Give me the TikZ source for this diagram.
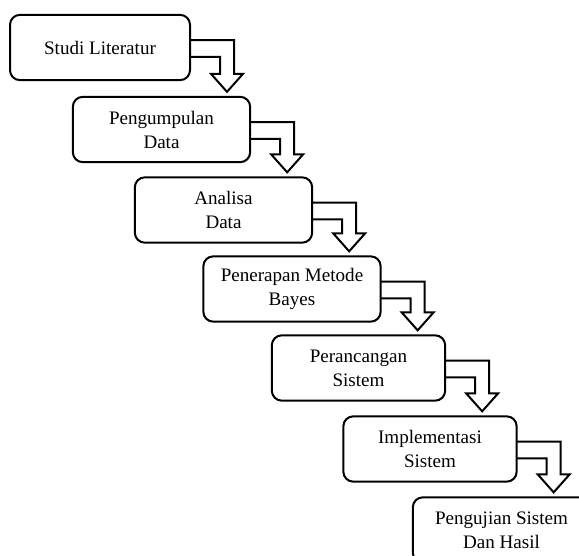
\documentclass[tikz,border=0pt]{standalone}
\usepackage{fontspec}
\setmainfont{Liberation Serif}
\usetikzlibrary{calc}

\begin{document}
\begin{tikzpicture}[x=0.75pt, y=-0.75pt, line width=1.5pt]
    \tikzstyle{every node} = [
        font=\fontsize{14.3}{18}\selectfont
    ]
    \tikzstyle{stage} = [
        draw=black,
        rounded corners=7.5pt,
        align=center,
        inner sep=0pt,
        minimum width=133pt,
        minimum height=49pt
    ]
    \tikzstyle{flowarrow} = [
        draw=black,
        line width=1.5pt,
        line join=miter
    ]

    \useasboundingbox (0,0) rectangle (579,556);
    \clip (0,0) rectangle (579,556);

    \node[stage, minimum width=135pt] (1) at (100, 47.5) {Studi Literatur};
    \node[stage] (2) at (161.5, 129.5) {Pengumpulan\\Data};
    \node[stage] (3) at (223.5, 210) {Analisa\\Data};
    \node[stage] (4) at (292, 289) {Penerapan Metode\\Bayes};
    \node[stage, minimum width=130pt] (5) at (358.5, 368) {Perancangan\\Sistem};
    \node[stage, minimum width=130pt] (6) at (430, 449) {Implementasi\\Sistem};
    \node[stage] (7) at (501.5, 530) {Pengujian Sistem\\Dan Hasil};

    % 1 -> 2 -> 3 -> 4 -> 5 -> 6 -> 7, bent block arrows
    \foreach \i/\j in {1/2, 2/3, 3/4, 4/5, 5/6, 6/7}
        \draw[flowarrow] let \p1=(\i.east), \p2=(\j.north) in
            (\x1-0.75pt, \y1+5.6pt) -- (\x1+32.25pt, \y1+5.6pt)
            -- (\x1+32.25pt, \y2+16.5pt) -- (\x1+39pt, \y2+16.5pt)
            -- (\x1+27pt, \y2+3pt)
            -- (\x1+15pt, \y2+16.5pt) -- (\x1+21.75pt, \y2+16.5pt)
            -- (\x1+21.75pt, \y1-7pt) -- (\x1-0.75pt, \y1-7pt);
\end{tikzpicture}
\end{document}
